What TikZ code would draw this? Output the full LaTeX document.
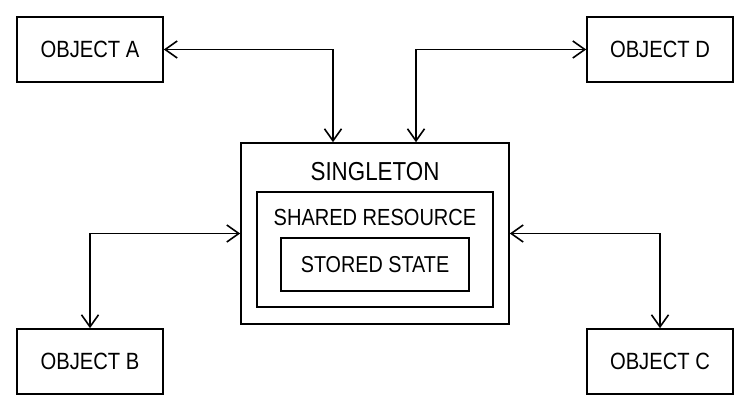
\documentclass[tikz,border=0pt]{standalone}
\usepackage{fontspec}
\setmainfont{Liberation Sans}[FakeStretch=0.86]
\usetikzlibrary{arrows.meta}

\begin{document}
\begin{tikzpicture}[x=1pt,y=-1pt,>={Straight Barb[length=12pt,width=17pt]},
    box/.style={draw,line width=1.6pt,inner sep=0pt},
    objbox/.style={box,minimum width=146pt,minimum height=65pt,font=\fontsize{23.5}{28}\selectfont},
    link/.style={<->,line width=1.6pt}]
    \useasboundingbox (0,0) rectangle (750,412);
    % the four objects
    \node[objbox] (objA) at (90,49.5) {OBJECT A};
    \node[objbox] (objD) at (660,49.5) {OBJECT D};
    \node[objbox] (objB) at (90,361.5) {OBJECT B};
    \node[objbox] (objC) at (660,361.5) {OBJECT C};
    % singleton with its nested parts
    \node[box,minimum width=268pt,minimum height=181pt] (single) at (375,233.5) {};
    \node[font=\fontsize{26}{31}\selectfont] (singletxt) at (375,172) {SINGLETON};
    \node[box,minimum width=236pt,minimum height=115pt] (shared) at (375,249.5) {};
    \node[font=\fontsize{23.3}{28}\selectfont] (sharedtxt) at (375,217) {SHARED RESOURCE};
    \node[box,minimum width=188pt,minimum height=53pt,font=\fontsize{23}{28}\selectfont] (stored) at (375,264.5) {STORED STATE};
    % links
    \draw[link] (objA.east) -| ([xshift=-42pt]single.north);
    \draw[link] ([xshift=41pt]single.north) |- (objD.west);
    \draw[link] (single.west) -| (objB.north);
    \draw[link] (single.east) -| (objC.north);
\end{tikzpicture}
\end{document}
